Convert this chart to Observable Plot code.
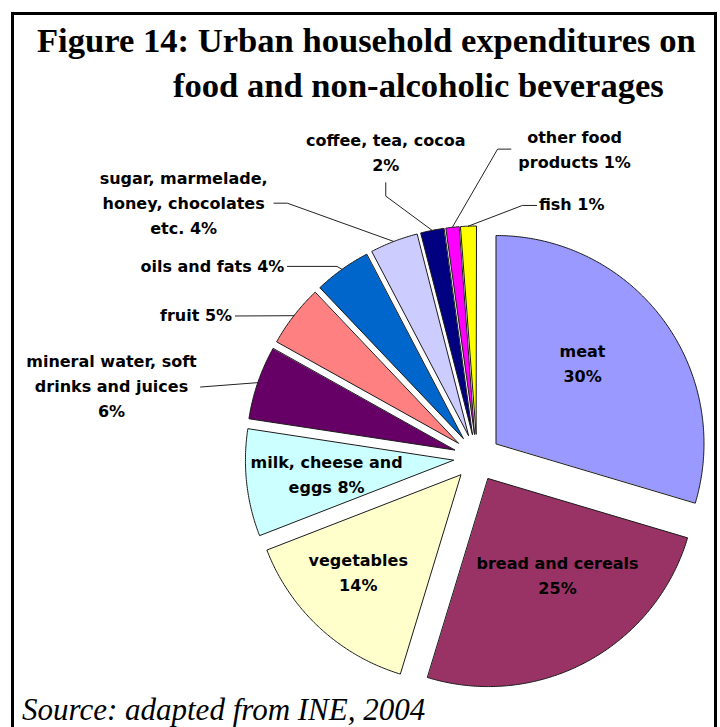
<!DOCTYPE html>
<html>
<head>
<meta charset="utf-8">
<script src="https://cdn.jsdelivr.net/npm/d3@7"></script>
<script src="https://cdn.jsdelivr.net/npm/@observablehq/plot@0.6"></script>
<style>
  html, body { margin: 0; padding: 0; background: #fff; }
  #page { position: relative; width: 720px; height: 727px; overflow: hidden; }
  #frame { position: absolute; left: 11px; top: 12px; width: 700px; height: 760px; border: 3px solid #000; }
  #title { position: relative; height: 110px; padding-top: 18px; box-sizing: border-box;
           font-family: "Liberation Serif", "Times New Roman", serif; font-weight: bold; font-size: 34.6px;
           line-height: 45px; color: #000; white-space: pre; }
  #title .l1 { padding-left: 37px; }
  #title .l2 { padding-left: 173px; }
  #chart { position: relative; height: 584px; }
  #source { position: relative; top: -3px; padding-left: 22px; font-family: "Liberation Serif", "Times New Roman", serif;
            font-style: italic; font-size: 31px; line-height: 37px; color: #000; white-space: pre; }
</style>
</head>
<body>
<div id="page">
  <div id="frame"></div>
  <div id="title"><div class="l1">Figure 14: Urban household expenditures on</div><div class="l2">food and non-alcoholic beverages</div></div>
  <div id="chart"></div>
  <div id="source">Source: adapted from INE, 2004</div>
</div>
<script>
// ---- data ----
const categories = [
  "meat", "bread and cereals", "vegetables", "milk, cheese and eggs",
  "mineral water, soft drinks and juices", "fruit", "oils and fats",
  "sugar, marmelade, honey, chocolates etc.", "coffee, tea, cocoa",
  "other food products", "fish"
];
const shares = [29.6, 25.1, 14.4, 8.3, 5.7, 4.8, 4.4, 3.7, 1.8, 1.0, 1.2]; // % of food spending
const palette = ["#9999FF", "#993366", "#FFFFCC", "#CCFFFF", "#660066", "#FF8080",
                 "#0066CC", "#CCCCFF", "#000080", "#FF00FF", "#FFFF00"];

// ---- label layout: offsets from each slice's outer-arc midpoint ----
const layout = [
  {text: "meat\n{p}", anchor: "middle", dx: -80.2, dy: 50.5},
  {text: "bread and cereals\n{p}", anchor: "middle", dx: -29.2, dy: -79.8},
  {text: "vegetables\n{p}", anchor: "middle", dx: 38.8, dy: -49.1},
  {text: "milk, cheese and\neggs {p}", anchor: "middle", dx: 79.9, dy: -3.1},
  {text: "mineral water, soft\ndrinks and juices\n{p}", anchor: "middle", dx: -146.3, dy: 9.6, leader: [[-57.3, 4.4]]},
  {text: "fruit {p}", anchor: "end", dx: -61.8, dy: 5.5, leader: [[-58.5, 0.3]]},
  {text: "oils and fats {p}", anchor: "end", dx: -57.6, dy: 2.6, leader: [[-5, -3], [-54.6, -3]]},
  {text: "sugar, marmelade,\nhoney, chocolates\netc. {p}", anchor: "middle", dx: -210.1, dy: -32.9, leader: [[-106.4, -38.3], [-119.8, -38.3]]},
  {text: "coffee, tea, cocoa\n{p}", anchor: "middle", dx: -46.4, dy: -71.8, leader: [[-46.4, -34.3], [-46.4, -47.6]]},
  {text: "other food\nproducts {p}", anchor: "middle", dx: 122.3, dy: -71.5, leader: [[45.3, -78.2], [58.6, -78.2]]},
  {text: "fish {p}", anchor: "start", dx: 70.7, dy: -15.7, leader: [[54.1, -20.7], [68.4, -20.7]]}
];

// ---- geometry (page pixel coordinates) ----
const CX = 476.5, CY = 457.2, R = 208, EXPLODE = 23.7;
const TOP = 110, H = 584, W = 720;
const FS = 16, LH = 25 / 16;
const rad = (d) => d * Math.PI / 180;
const polar = (x, y, r, deg) => [x + r * Math.sin(rad(deg)), y - r * Math.cos(rad(deg))];

const total = d3.sum(shares);
let cum = 0;
const slices = shares.map((v, i) => {
  const a0 = cum / total * 360; cum += v; const a1 = cum / total * 360;
  const mid = (a0 + a1) / 2;
  const [ax, ay] = polar(CX, CY, EXPLODE, mid);
  const [mx, my] = polar(ax, ay, R, mid);
  return {name: categories[i], value: v, a0, a1, mid, ax, ay, mx, my};
});

const slicePts = [];
for (const s of slices) {
  slicePts.push({name: s.name, x: s.ax, y: s.ay});
  const n = Math.max(2, Math.ceil((s.a1 - s.a0) / 0.5));
  for (let k = 0; k <= n; ++k) {
    const [x, y] = polar(s.ax, s.ay, R, s.a0 + (s.a1 - s.a0) * k / n);
    slicePts.push({name: s.name, x, y});
  }
}

const leaderPts = [];
const labels = slices.map((s, i) => {
  const L = layout[i];
  if (L.leader) {
    leaderPts.push({name: s.name, x: s.mx, y: s.my});
    for (const [dx, dy] of L.leader) leaderPts.push({name: s.name, x: s.mx + dx, y: s.my + dy});
  }
  return {
    name: s.name,
    text: L.text.replace("{p}", Math.round(s.value / total * 100) + "%"),
    anchor: L.anchor,
    x: s.mx + L.dx,
    y: s.my + L.dy - 0.32 * LH * FS
  };
});

const textOpts = {
  x: "x", y: "y", text: "text", fill: "#000",
  fontFamily: "DejaVu Sans, Verdana, sans-serif", fontWeight: "bold", fontSize: FS, lineHeight: LH,
  lineAnchor: "middle"
};

const chart = Plot.plot({
  width: W, height: H,
  margin: 0,
  style: {background: "transparent", overflow: "visible"},
  x: {domain: [0, W], range: [0, W], axis: null},
  y: {domain: [TOP, TOP + H], range: [0, H], axis: null},
  color: {domain: categories, range: palette},
  marks: [
    Plot.line(slicePts, {x: "x", y: "y", z: "name", fill: "name", stroke: "#1a1a1a", strokeWidth: 1,
                         curve: "linear-closed", strokeLinejoin: "miter"}),
    Plot.line(leaderPts, {x: "x", y: "y", z: "name", stroke: "#222", strokeWidth: 1}),
    ...["middle", "start", "end"].map(a =>
      Plot.text(labels.filter(d => d.anchor === a), {...textOpts, textAnchor: a}))
  ]
});
document.getElementById("chart").appendChild(chart);
</script>
</body>
</html>
